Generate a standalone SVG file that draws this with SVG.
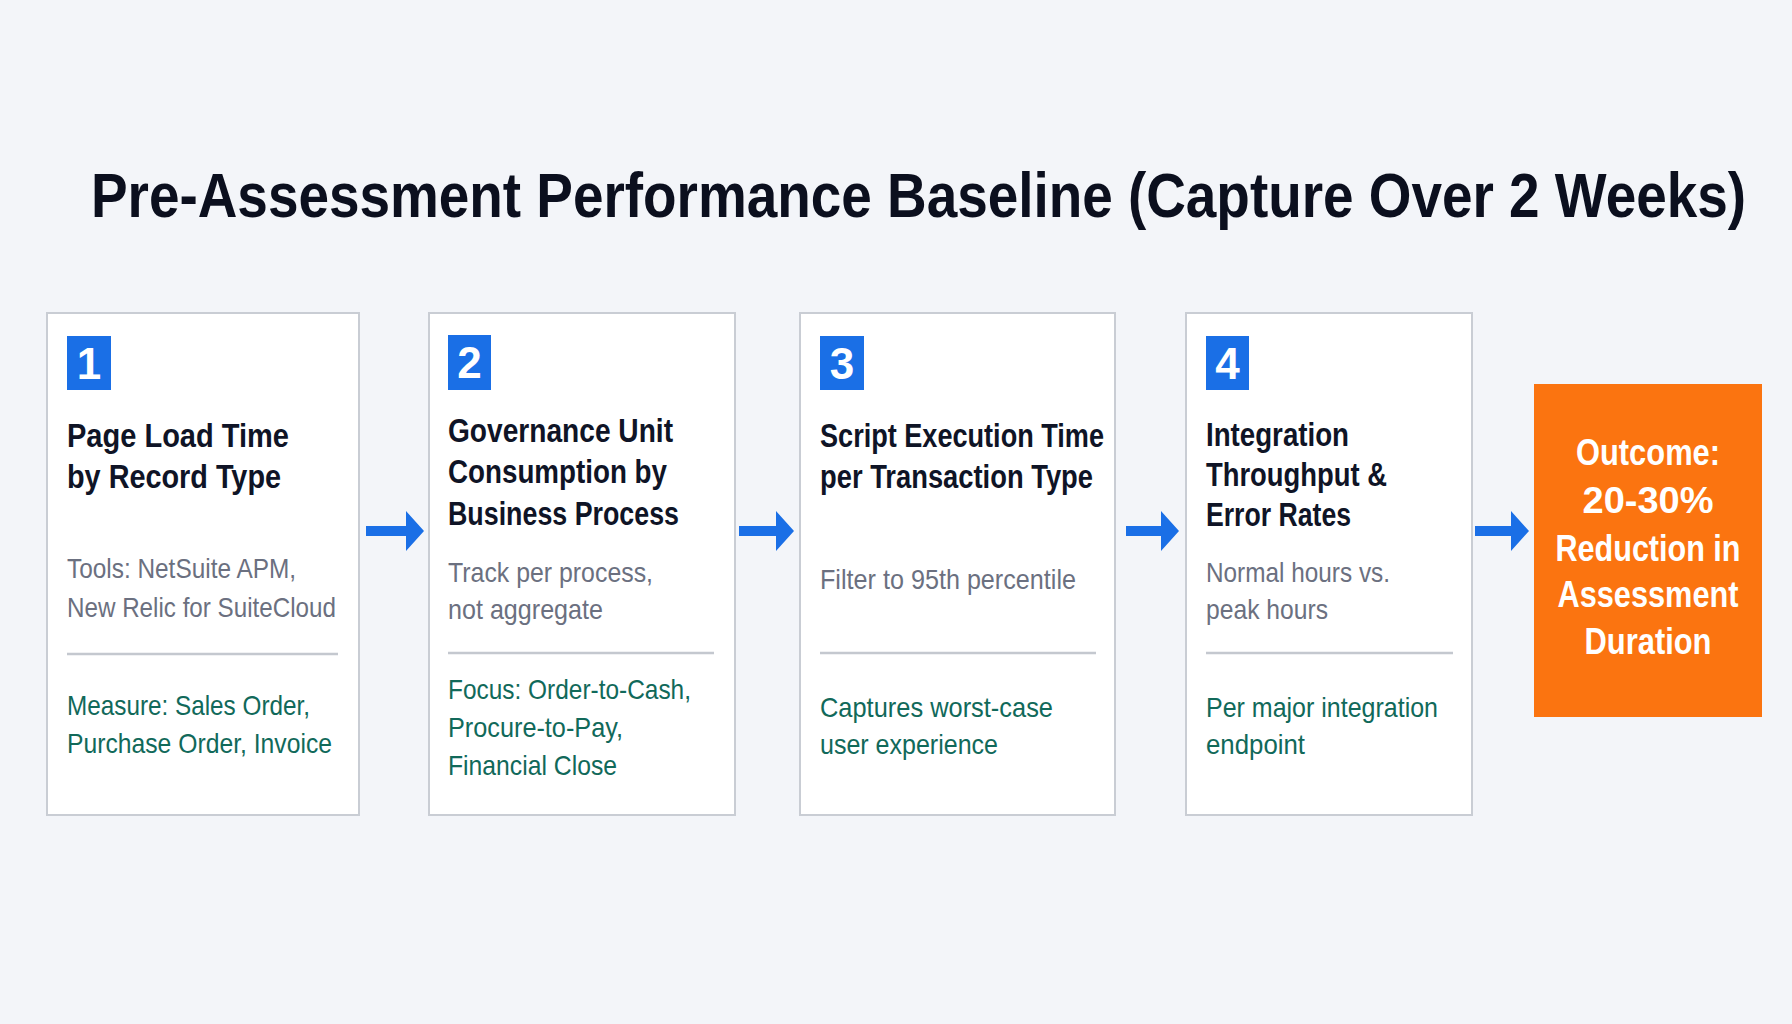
<svg xmlns="http://www.w3.org/2000/svg" width="1792" height="1024" viewBox="0 0 1792 1024">
<defs>
<style>
.card{fill:#ffffff;stroke:#c9cdd4;stroke-width:2}
.badge{fill:#1a6fe6}
.num{font-family:"Liberation Sans",Arial,sans-serif;font-weight:bold;font-size:44px;fill:#ffffff;text-anchor:middle}
.head{font-family:"Liberation Sans",Arial,sans-serif;font-weight:bold;font-size:34px;fill:#0f1426}
.sub{font-family:"Liberation Sans",Arial,sans-serif;font-size:28px;fill:#6b7080}
.note{font-family:"Liberation Sans",Arial,sans-serif;font-size:28px;fill:#11695a}
.div{stroke:#c4c8cf;stroke-width:2.5}
.out{font-family:"Liberation Sans",Arial,sans-serif;font-weight:bold;font-size:37px;fill:#ffffff;text-anchor:middle}
.arrow{fill:#1a6fe6}
</style>
</defs>
<rect width="1792" height="1024" fill="#f3f5f9"/>
<g id="title" transform="translate(91,217) scale(1,1.13)">
<text x="0" y="0" font-family="'Liberation Sans',Arial,sans-serif" font-weight="bold" font-size="55" fill="#0b0f1e" textLength="1655" lengthAdjust="spacingAndGlyphs">Pre-Assessment Performance Baseline (Capture Over 2 Weeks)</text>
</g>

<g id="node1">
<rect class="card" x="47" y="313" width="312" height="502"/>
<rect class="badge" x="67" y="336" width="44" height="54"/>
<text class="num" x="89" y="379">1</text>
<text class="head" x="67" y="447" textLength="222" lengthAdjust="spacingAndGlyphs">Page Load Time</text>
<text class="head" x="67" y="488" textLength="214" lengthAdjust="spacingAndGlyphs">by Record Type</text>
<text class="sub" x="67" y="578" textLength="229" lengthAdjust="spacingAndGlyphs">Tools: NetSuite APM,</text>
<text class="sub" x="67" y="617" textLength="269" lengthAdjust="spacingAndGlyphs">New Relic for SuiteCloud</text>
<line class="div" x1="67" y1="654" x2="338" y2="654"/>
<text class="note" x="67" y="715" textLength="243" lengthAdjust="spacingAndGlyphs">Measure: Sales Order,</text>
<text class="note" x="67" y="753" textLength="265" lengthAdjust="spacingAndGlyphs">Purchase Order, Invoice</text>
</g>

<g id="node2">
<rect class="card" x="429" y="313" width="306" height="502"/>
<rect class="badge" x="448" y="335" width="43" height="55"/>
<text class="num" x="469.5" y="378">2</text>
<text class="head" x="448" y="442" textLength="225" lengthAdjust="spacingAndGlyphs">Governance Unit</text>
<text class="head" x="448" y="483" textLength="219" lengthAdjust="spacingAndGlyphs">Consumption by</text>
<text class="head" x="448" y="525" textLength="231" lengthAdjust="spacingAndGlyphs">Business Process</text>
<text class="sub" x="448" y="582" textLength="205" lengthAdjust="spacingAndGlyphs">Track per process,</text>
<text class="sub" x="448" y="619" textLength="155" lengthAdjust="spacingAndGlyphs">not aggregate</text>
<line class="div" x1="448" y1="653" x2="714" y2="653"/>
<text class="note" x="448" y="699" textLength="243" lengthAdjust="spacingAndGlyphs">Focus: Order-to-Cash,</text>
<text class="note" x="448" y="737" textLength="175" lengthAdjust="spacingAndGlyphs">Procure-to-Pay,</text>
<text class="note" x="448" y="775" textLength="169" lengthAdjust="spacingAndGlyphs">Financial Close</text>
</g>

<g id="node3">
<rect class="card" x="800" y="313" width="315" height="502"/>
<rect class="badge" x="820" y="336" width="44" height="54"/>
<text class="num" x="842" y="379">3</text>
<text class="head" x="820" y="447" textLength="284" lengthAdjust="spacingAndGlyphs">Script Execution Time</text>
<text class="head" x="820" y="488" textLength="273" lengthAdjust="spacingAndGlyphs">per Transaction Type</text>
<text class="sub" x="820" y="589" textLength="256" lengthAdjust="spacingAndGlyphs">Filter to 95th percentile</text>
<line class="div" x1="820" y1="653" x2="1096" y2="653"/>
<text class="note" x="820" y="717" textLength="233" lengthAdjust="spacingAndGlyphs">Captures worst-case</text>
<text class="note" x="820" y="754" textLength="178" lengthAdjust="spacingAndGlyphs">user experience</text>
</g>

<g id="node4">
<rect class="card" x="1186" y="313" width="286" height="502"/>
<rect class="badge" x="1206" y="336" width="43" height="54"/>
<text class="num" x="1227.5" y="379">4</text>
<text class="head" x="1206" y="446" textLength="143" lengthAdjust="spacingAndGlyphs">Integration</text>
<text class="head" x="1206" y="486" textLength="181" lengthAdjust="spacingAndGlyphs">Throughput &amp;</text>
<text class="head" x="1206" y="526" textLength="145" lengthAdjust="spacingAndGlyphs">Error Rates</text>
<text class="sub" x="1206" y="582" textLength="184" lengthAdjust="spacingAndGlyphs">Normal hours vs.</text>
<text class="sub" x="1206" y="619" textLength="122" lengthAdjust="spacingAndGlyphs">peak hours</text>
<line class="div" x1="1206" y1="653" x2="1453" y2="653"/>
<text class="note" x="1206" y="717" textLength="232" lengthAdjust="spacingAndGlyphs">Per major integration</text>
<text class="note" x="1206" y="754" textLength="99" lengthAdjust="spacingAndGlyphs">endpoint</text>
</g>

<g id="outcome">
<rect x="1534" y="384" width="228" height="333" fill="#fb7410"/>
<text class="out" x="1648" y="465" textLength="144" lengthAdjust="spacingAndGlyphs">Outcome:</text>
<text class="out" x="1648" y="513" textLength="131" lengthAdjust="spacingAndGlyphs">20-30%</text>
<text class="out" x="1648" y="561" textLength="185" lengthAdjust="spacingAndGlyphs">Reduction in</text>
<text class="out" x="1648" y="607" textLength="181" lengthAdjust="spacingAndGlyphs">Assessment</text>
<text class="out" x="1648" y="654" textLength="127" lengthAdjust="spacingAndGlyphs">Duration</text>
</g>

<g id="connectors">
<path class="arrow" d="M366,526 H406 V511 L424,531 L406,551 V536 H366 Z"/>
<path class="arrow" d="M739,526 H776 V511 L794,531 L776,551 V536 H739 Z"/>
<path class="arrow" d="M1126,526 H1161 V511 L1179,531 L1161,551 V536 H1126 Z"/>
<path class="arrow" d="M1475,526 H1511 V511 L1529,531 L1511,551 V536 H1475 Z"/>
</g>
</svg>
